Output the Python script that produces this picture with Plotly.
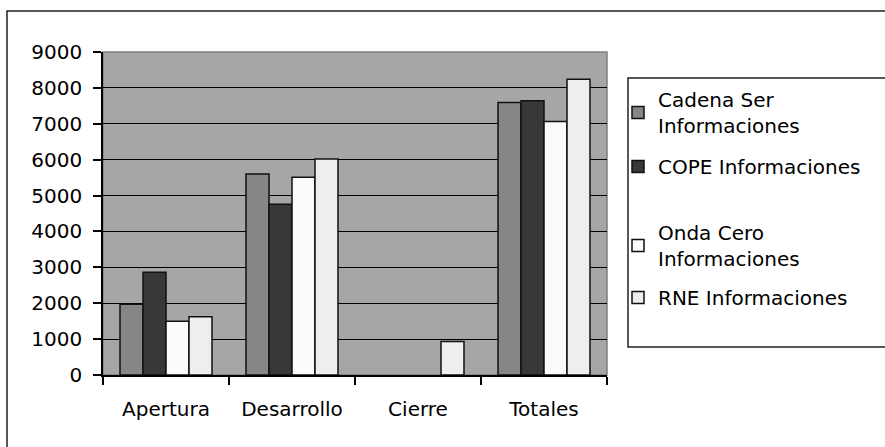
import plotly.graph_objects as go

categories = ["Apertura", "Desarrollo", "Cierre", "Totales"]
series_names = ["Cadena Ser<br>Informaciones", "COPE Informaciones",
                "Onda Cero<br>Informaciones", "RNE Informaciones"]
cadena_ser = [1970, 5600, None, 7590]
cope = [2860, 4760, None, 7640]
onda_cero = [1500, 5510, None, 7060]
rne = [1620, 6020, 930, 8240]
y_ticks = [0, 1000, 2000, 3000, 4000, 5000, 6000, 7000, 8000, 9000]

series_values = [cadena_ser, cope, onda_cero, rne]
colors = ["#868686", "#383838", "#fbfbfb", "#eeeeee"]

W, H = 885, 447
L, R, T, B = 103, 607, 52, 375
pw, ph = R - L, B - T


def px(x):
    return (x - L) / pw


def py(y):
    return (B - y) / ph


FONT = "DejaVu Sans"
fig = go.Figure()
legend_ids = ["legend", "legend2", "legend3", "legend4"]
legend_tops = [80, 147, 213, 278]
for name, vals, col, lid in zip(series_names, series_values, colors, legend_ids):
    fig.add_trace(go.Bar(
        x=categories, y=vals, name=name,
        marker=dict(color=col, line=dict(color="#111111", width=1.5)),
        legend=lid,
    ))

layout_legends = {}
for lid, top in zip(legend_ids, legend_tops):
    layout_legends[lid] = dict(
        x=px(618), y=py(top), xanchor="left", yanchor="top",
        bgcolor="rgba(0,0,0,0)", borderwidth=0,
        font=dict(family=FONT, size=20, color="#000000"),
    )

fig.update_layout(
    width=W, height=H,
    margin=dict(l=L, r=W - R, t=T, b=H - B, autoexpand=False),
    paper_bgcolor="#ffffff",
    plot_bgcolor="#a6a6a6",
    barmode="group", bargap=0.27, bargroupgap=0,
    showlegend=True,
    font=dict(family=FONT, size=20, color="#000000"),
    xaxis=dict(
        type="category", showgrid=False, showline=True, linecolor="#000000", linewidth=1.5,
        ticks="outside", tickson="boundaries", ticklen=8, tickcolor="#000000", tickwidth=1.5,
        ticklabelstandoff=15,
        tickfont=dict(family=FONT, size=20, color="#000000"),
    ),
    yaxis=dict(
        range=[0, 9000], tickvals=y_ticks, showgrid=True, gridcolor="#000000", gridwidth=1.2,
        showline=True, linecolor="#000000", linewidth=1.5, zeroline=False,
        ticks="outside", ticklen=8, tickcolor="#000000", tickwidth=1.5,
        ticklabelstandoff=7,
        tickfont=dict(family=FONT, size=20, color="#000000"),
    ),
    shapes=[
        dict(type="rect", xref="paper", yref="paper", x0=px(7), x1=px(1200),
             y0=py(600), y1=py(11), line=dict(color="#222222", width=1.5), layer="below"),
        dict(type="rect", xref="paper", yref="paper", x0=0, x1=1, y0=0, y1=1,
             line=dict(color="#808080", width=1.5), layer="below"),
        dict(type="rect", xref="paper", yref="paper", x0=px(628), x1=px(1100),
             y0=py(347), y1=py(78), line=dict(color="#222222", width=1.5)),
    ],
    **layout_legends,
)

fig.write_html("out.html", config={"displayModeBar": False},
               post_script="document.body.style.margin='0';")
